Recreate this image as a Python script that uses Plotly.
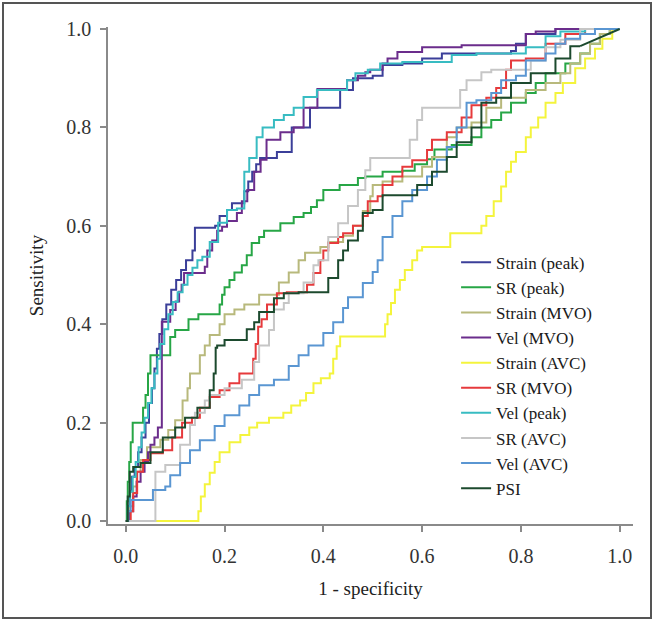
import plotly.graph_objects as go

# ---- data (1 - specificity, sensitivity) step points ----
names = ["Strain (peak)", "SR (peak)", "Strain (MVO)", "Vel (MVO)", "Strain (AVC)",
         "SR (MVO)", "Vel (peak)", "SR (AVC)", "Vel (AVC)", "PSI"]
colors = ["#3b3f99", "#27a646", "#b8b97c", "#6b2d8c", "#f4f43c",
          "#e63a3c", "#38bcc2", "#c6c6c6", "#5a96d2", "#1c4a2e"]

strain_peak_x = [0, 0.004, 0.008, 0.012, 0.018, 0.025, 0.032, 0.04, 0.047, 0.053, 0.058, 0.063, 0.068, 0.074, 0.082,
                 0.092, 0.102, 0.112, 0.122, 0.135, 0.14, 0.181, 0.19, 0.205, 0.215, 0.24, 0.248, 0.256, 0.264, 0.272,
                 0.306, 0.336, 0.373, 0.434, 0.46, 0.50, 0.52, 0.56, 0.60, 0.64, 0.78, 0.79, 0.81, 0.87, 1.0]
strain_peak_y = [0, 0.03, 0.06, 0.09, 0.11, 0.14, 0.17, 0.2, 0.24, 0.27, 0.31, 0.35, 0.38, 0.41, 0.44,
                 0.47, 0.49, 0.51, 0.53, 0.55, 0.596, 0.60, 0.62, 0.632, 0.646, 0.67, 0.69, 0.71, 0.725, 0.738,
                 0.75, 0.80, 0.84, 0.876, 0.90, 0.905, 0.927, 0.93, 0.94, 0.95, 0.955, 0.97, 0.99, 1.0, 1.0]

sr_peak_x = [0, 0.002, 0.004, 0.007, 0.01, 0.014, 0.035, 0.04, 0.045, 0.05, 0.09, 0.1, 0.127, 0.147, 0.19, 0.195,
             0.2, 0.21, 0.22, 0.235, 0.245, 0.255, 0.27, 0.28, 0.313, 0.34, 0.36, 0.375, 0.387, 0.40, 0.433, 0.47,
             0.485, 0.52, 0.56, 0.585, 0.61, 0.625, 0.66, 0.70, 0.72, 0.74, 0.76, 0.78, 0.81, 0.83, 0.85, 0.89,
             0.92, 0.94, 0.96, 0.98, 1.0]
sr_peak_y = [0, 0.04, 0.08, 0.12, 0.16, 0.2, 0.23, 0.256, 0.3, 0.337, 0.374, 0.388, 0.41, 0.42, 0.44, 0.46,
             0.475, 0.49, 0.505, 0.52, 0.54, 0.565, 0.577, 0.59, 0.605, 0.618, 0.626, 0.638, 0.652, 0.673, 0.683, 0.697,
             0.70, 0.71, 0.712, 0.725, 0.735, 0.755, 0.764, 0.78, 0.80, 0.815, 0.83, 0.85, 0.87, 0.89, 0.91, 0.93,
             0.95, 0.97, 0.99, 1.0, 1.0]

strain_mvo_x = [0, 0.008, 0.015, 0.022, 0.03, 0.043, 0.07, 0.086, 0.1, 0.115, 0.125, 0.13, 0.15, 0.16, 0.17, 0.19,
                0.2, 0.22, 0.24, 0.27, 0.31, 0.33, 0.35, 0.363, 0.394, 0.41, 0.44, 0.46, 0.48, 0.495, 0.5, 0.52,
                0.56, 0.6, 0.62, 0.65, 0.67, 0.7, 0.73, 0.76, 0.81, 0.85, 0.88, 0.9, 0.92, 0.94, 0.96, 0.98, 1.0]
strain_mvo_y = [0, 0.03, 0.07, 0.1, 0.124, 0.15, 0.165, 0.185, 0.205, 0.245, 0.27, 0.3, 0.337, 0.357, 0.378, 0.4,
                0.42, 0.43, 0.44, 0.46, 0.485, 0.505, 0.53, 0.545, 0.557, 0.567, 0.58, 0.6, 0.63, 0.66, 0.683, 0.69,
                0.70, 0.72, 0.74, 0.78, 0.80, 0.81, 0.84, 0.86, 0.876, 0.89, 0.91, 0.93, 0.95, 0.97, 0.99, 1.0, 1.0]

vel_mvo_x = [0, 0.008, 0.015, 0.022, 0.03, 0.038, 0.045, 0.05, 0.058, 0.065, 0.073, 0.09, 0.101, 0.108, 0.113,
             0.118, 0.16, 0.165, 0.175, 0.185, 0.195, 0.205, 0.225, 0.235, 0.246, 0.26, 0.273, 0.285, 0.313, 0.34,
             0.36, 0.388, 0.448, 0.47, 0.485, 0.495, 0.52, 0.53, 0.55, 0.60, 0.68, 0.81, 0.83, 0.87, 1.0]
vel_mvo_y = [0, 0.02, 0.05, 0.08, 0.1, 0.12, 0.14, 0.155, 0.17, 0.19, 0.405, 0.429, 0.446, 0.466, 0.48,
             0.504, 0.517, 0.55, 0.57, 0.59, 0.598, 0.61, 0.626, 0.65, 0.673, 0.71, 0.734, 0.775, 0.79, 0.80,
             0.84, 0.878, 0.896, 0.905, 0.912, 0.917, 0.93, 0.94, 0.953, 0.963, 0.967, 0.99, 0.995, 1.0, 1.0]

strain_avc_x = [0, 0.147, 0.152, 0.16, 0.17, 0.18, 0.19, 0.21, 0.232, 0.25, 0.266, 0.29, 0.319, 0.335, 0.353,
                0.365, 0.38, 0.395, 0.413, 0.42, 0.427, 0.434, 0.525, 0.53, 0.537, 0.545, 0.555, 0.565, 0.58, 0.59,
                0.60, 0.657, 0.72, 0.73, 0.745, 0.76, 0.77, 0.78, 0.79, 0.81, 0.82, 0.835, 0.85, 0.87, 0.885,
                0.91, 0.93, 0.95, 0.965, 0.985, 1.0]
strain_avc_y = [0, 0.02, 0.05, 0.075, 0.098, 0.12, 0.14, 0.16, 0.175, 0.19, 0.2, 0.21, 0.22, 0.235, 0.245,
                0.26, 0.28, 0.29, 0.30, 0.33, 0.355, 0.375, 0.40, 0.42, 0.443, 0.47, 0.49, 0.51, 0.53, 0.55,
                0.557, 0.585, 0.60, 0.62, 0.65, 0.68, 0.71, 0.73, 0.75, 0.78, 0.80, 0.82, 0.85, 0.87, 0.89,
                0.92, 0.94, 0.96, 0.98, 1.0, 1.0]

sr_mvo_x = [0, 0.01, 0.015, 0.023, 0.035, 0.05, 0.075, 0.094, 0.114, 0.134, 0.15, 0.17, 0.19, 0.21, 0.23, 0.258,
            0.263, 0.268, 0.275, 0.286, 0.306, 0.326, 0.367, 0.38, 0.394, 0.40, 0.41, 0.43, 0.44, 0.46, 0.48, 0.49,
            0.51, 0.52, 0.54, 0.56, 0.58, 0.61, 0.62, 0.65, 0.68, 0.70, 0.73, 0.75, 0.77, 0.78, 0.81, 0.85, 0.89,
            0.93, 1.0]
sr_mvo_y = [0, 0.02, 0.057, 0.1, 0.124, 0.138, 0.144, 0.17, 0.2, 0.21, 0.23, 0.252, 0.266, 0.28, 0.3, 0.33,
            0.36, 0.395, 0.41, 0.44, 0.463, 0.465, 0.48, 0.504, 0.53, 0.55, 0.565, 0.577, 0.585, 0.60, 0.62, 0.65,
            0.66, 0.683, 0.70, 0.72, 0.733, 0.754, 0.775, 0.79, 0.82, 0.845, 0.86, 0.88, 0.917, 0.936, 0.94, 0.97, 0.99,
            1.0, 1.0]

vel_peak_x = [0, 0.004, 0.009, 0.014, 0.02, 0.026, 0.032, 0.038, 0.045, 0.052, 0.058, 0.064, 0.07, 0.078, 0.086,
              0.095, 0.105, 0.115, 0.125, 0.135, 0.145, 0.155, 0.17, 0.187, 0.205, 0.225, 0.24, 0.25, 0.265, 0.277,
              0.30, 0.32, 0.34, 0.36, 0.387, 0.448, 0.465, 0.49, 0.515, 0.56, 0.66, 0.71, 0.81, 0.85, 0.88, 0.93, 1.0]
vel_peak_y = [0, 0.03, 0.06, 0.09, 0.12, 0.15, 0.18, 0.21, 0.24, 0.27, 0.3, 0.33, 0.36, 0.39, 0.42,
              0.445, 0.465, 0.48, 0.5, 0.515, 0.53, 0.537, 0.567, 0.606, 0.632, 0.635, 0.71, 0.738, 0.78, 0.80,
              0.815, 0.825, 0.84, 0.862, 0.876, 0.896, 0.91, 0.917, 0.93, 0.933, 0.947, 0.95, 0.963, 0.985, 0.995, 1.0, 1.0]

sr_avc_x = [0, 0.06, 0.08, 0.11, 0.13, 0.14, 0.16, 0.17, 0.2, 0.235, 0.26, 0.27, 0.29, 0.3, 0.32, 0.33, 0.36,
            0.38, 0.39, 0.41, 0.43, 0.45, 0.47, 0.485, 0.495, 0.575, 0.59, 0.6, 0.677, 0.69, 0.72, 0.74, 0.82,
            0.85, 0.88, 0.92, 1.0]
sr_avc_y = [0, 0.1, 0.114, 0.155, 0.195, 0.22, 0.245, 0.256, 0.27, 0.287, 0.323, 0.357, 0.388, 0.43, 0.443, 0.463,
            0.485, 0.52, 0.53, 0.577, 0.605, 0.64, 0.673, 0.713, 0.738, 0.775, 0.815, 0.84, 0.876, 0.896, 0.912,
            0.917, 0.936, 0.963, 0.978, 1.0, 1.0]

vel_avc_x = [0, 0.005, 0.01, 0.055, 0.08, 0.09, 0.11, 0.13, 0.15, 0.18, 0.2, 0.23, 0.25, 0.27, 0.3, 0.33, 0.35,
             0.37, 0.4, 0.42, 0.44, 0.45, 0.48, 0.5, 0.51, 0.52, 0.54, 0.56, 0.58, 0.61, 0.63, 0.65, 0.67, 0.69,
             0.71, 0.74, 0.76, 0.79, 0.81, 0.85, 0.87, 0.89, 0.92, 0.95, 1.0]
vel_avc_y = [0, 0.02, 0.043, 0.063, 0.07, 0.093, 0.118, 0.144, 0.164, 0.193, 0.215, 0.235, 0.256, 0.276, 0.287,
             0.315, 0.337, 0.357, 0.382, 0.404, 0.433, 0.455, 0.484, 0.506, 0.53, 0.577, 0.62, 0.65, 0.673, 0.70,
             0.734, 0.76, 0.80, 0.85, 0.855, 0.87, 0.896, 0.905, 0.936, 0.95, 0.97, 0.98, 0.99, 1.0, 1.0]

psi_x = [0, 0.004, 0.008, 0.015, 0.03, 0.05, 0.075, 0.1, 0.12, 0.145, 0.17, 0.178, 0.182, 0.185, 0.2, 0.245,
         0.26, 0.27, 0.3, 0.32, 0.35, 0.41, 0.43, 0.44, 0.45, 0.47, 0.48, 0.5, 0.52, 0.59, 0.62, 0.65, 0.67,
         0.7, 0.72, 0.75, 0.78, 0.82, 0.87, 0.9, 0.92]
psi_y = [0, 0.05, 0.1, 0.11, 0.118, 0.14, 0.17, 0.19, 0.21, 0.23, 0.266, 0.30, 0.352, 0.357, 0.368, 0.39,
         0.404, 0.425, 0.453, 0.463, 0.465, 0.494, 0.53, 0.55, 0.57, 0.59, 0.626, 0.632, 0.662, 0.683, 0.71, 0.74,
         0.77, 0.80, 0.85, 0.86, 0.89, 0.91, 0.94, 0.965, 0.965]
psi_tail_x = [0.92, 1.0]
psi_tail_y = [0.965, 1.0]

series_x = [strain_peak_x, sr_peak_x, strain_mvo_x, vel_mvo_x, strain_avc_x,
            sr_mvo_x, vel_peak_x, sr_avc_x, vel_avc_x, psi_x]
series_y = [strain_peak_y, sr_peak_y, strain_mvo_y, vel_mvo_y, strain_avc_y,
            sr_mvo_y, vel_peak_y, sr_avc_y, vel_avc_y, psi_y]

tick_vals = [0, 0.2, 0.4, 0.6, 0.8, 1.0]
tick_text = ["0.0", "0.2", "0.4", "0.6", "0.8", "1.0"]

FONT = "Liberation Serif"

fig = go.Figure()
for name, col, xs, ys in zip(names, colors, series_x, series_y):
    fig.add_trace(go.Scatter(x=xs, y=ys, mode="lines", name=name,
                             line=dict(color=col, width=2, shape="hv")))
fig.add_trace(go.Scatter(x=psi_tail_x, y=psi_tail_y, mode="lines", name="PSI",
                         showlegend=False, line=dict(color=colors[-1], width=2)))

axis_common = dict(showgrid=False, zeroline=False, showline=True, linecolor="#8a8a8a", linewidth=1.5,
                   ticks="outside", ticklen=6, tickwidth=1.5, tickcolor="#8a8a8a",
                   tickvals=tick_vals, ticktext=tick_text,
                   tickfont=dict(family=FONT, size=20, color="#333333"))

fig.update_layout(
    width=654, height=621,
    margin=dict(l=108, r=21, t=27, b=97, pad=0),
    paper_bgcolor="white", plot_bgcolor="white",
    font=dict(family=FONT, color="#222222"),
    xaxis=dict(range=[-0.036, 1.027], ticklabelstandoff=7,
               title=dict(text="1 - specificity", font=dict(family=FONT, size=19, color="#222222"), standoff=16),
               **axis_common),
    yaxis=dict(range=[-0.006, 1.004], ticklabelstandoff=5,
               title=dict(text="Sensitivity", font=dict(family=FONT, size=19, color="#222222"), standoff=18),
               **axis_common),
    legend=dict(x=0.663, y=0.562, xanchor="left", yanchor="top", bgcolor="rgba(0,0,0,0)",
                font=dict(family=FONT, size=17, color="#1a1a1a"), borderwidth=0, tracegroupgap=0),
    showlegend=True,
)

fig.add_shape(type="rect", xref="paper", yref="paper",
              x0=(3 - 108) / 525, x1=(651 - 108) / 525,
              y0=(524 - 618) / 497, y1=(524 - 3) / 497,
              line=dict(color="#555555", width=2), fillcolor="rgba(0,0,0,0)", layer="above")

fig.write_html("out.html")
